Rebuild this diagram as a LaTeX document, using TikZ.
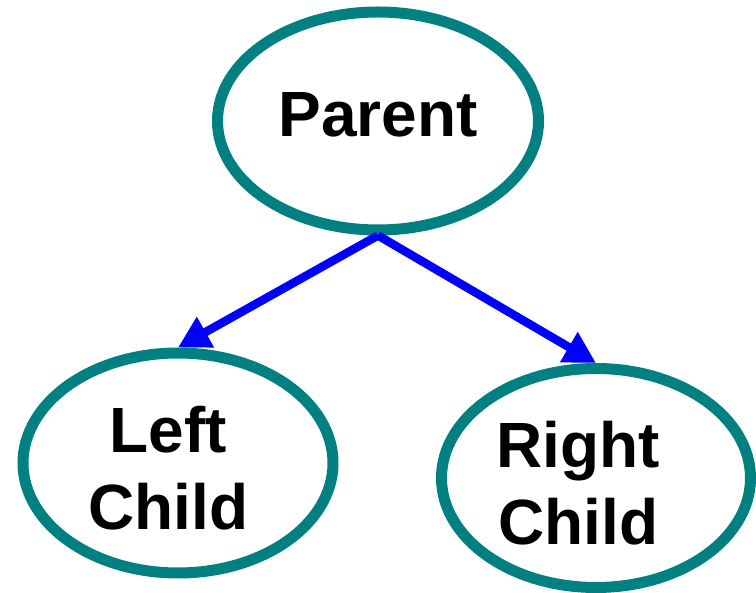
\documentclass[tikz,border=0pt]{standalone}
\usepackage{fontspec}
\setmainfont{Liberation Sans}
\usetikzlibrary{shapes.geometric,arrows.meta}
\definecolor{treeteal}{RGB}{0,128,128}
\definecolor{treeblue}{RGB}{0,0,255}

\begin{document}
\begin{tikzpicture}[
	vertex/.style={ellipse,draw=treeteal,line width=0.22cm,fill=white,inner sep=0pt,
		align=center,font=\fontsize{36.4}{43.8}\selectfont\bfseries},
	edge/.style={treeblue,line width=0.17cm,-{Triangle[length=0.63cm,width=0.66cm]}}]
	\useasboundingbox (0,0) rectangle (15.12,11.86);
	% the three vertices
	\node[vertex,minimum width=6.42cm,minimum height=4.36cm,text depth=0.24cm] (parent) at (7.56,9.44) {Parent};
	\node[vertex,minimum width=6.2cm,minimum height=4.4cm,text height=2.67cm] (left) at (3.56,2.60)
		{\hspace*{-0.38cm}Left\\\hspace*{-0.38cm}Child};
	\node[vertex,minimum width=6.18cm,minimum height=4.38cm,text height=2.67cm] (right) at (11.92,2.30)
		{\hspace*{-0.7cm}Right\\\hspace*{-0.7cm}Child};
	% edges
	\draw[edge] (parent.south)--(left.north);
	\draw[edge] (parent.south)--(right.north);
\end{tikzpicture}
\end{document}
